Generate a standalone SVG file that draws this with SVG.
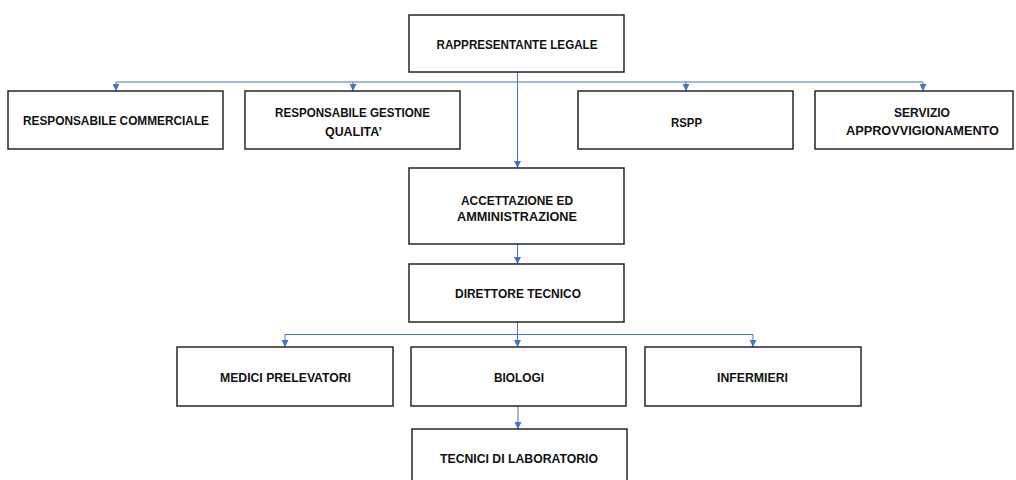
<svg xmlns="http://www.w3.org/2000/svg" width="1016" height="480" viewBox="0 0 1016 480">
<defs>
<style>
.box{fill:#ffffff;stroke:#262626;stroke-width:1.5}
.lbl{font-family:"Liberation Sans",Arial,sans-serif;font-weight:bold;font-size:13px;fill:#111111;text-anchor:middle}
.con{fill:none;stroke:#4472C4;stroke-width:1}
</style>
<marker id="arr" viewBox="0 0 8 8" refX="8" refY="4" markerWidth="7" markerHeight="7" markerUnits="userSpaceOnUse" orient="auto">
<path d="M0,0 L8,4 L0,8 Z" fill="#4472C4"/>
</marker>
</defs>
<rect width="1016" height="480" fill="#ffffff"/>
<g id="connectors">
<path class="con" d="M517.5,72 V168" marker-end="url(#arr)"/>
<path class="con" d="M116,82 H923"/>
<path class="con" d="M116,82 V91" marker-end="url(#arr)"/>
<path class="con" d="M353,82 V91" marker-end="url(#arr)"/>
<path class="con" d="M686,82 V91" marker-end="url(#arr)"/>
<path class="con" d="M923,82 V91" marker-end="url(#arr)"/>
<path class="con" d="M517.5,244 V264" marker-end="url(#arr)"/>
<path class="con" d="M517.5,322 V347" marker-end="url(#arr)"/>
<path class="con" d="M285,334.5 H753"/>
<path class="con" d="M285,334.5 V347" marker-end="url(#arr)"/>
<path class="con" d="M753,334.5 V347" marker-end="url(#arr)"/>
<path class="con" d="M518,406 V429" marker-end="url(#arr)"/>
</g>
<g id="n-rappresentante">
<rect class="box" x="409" y="15" width="215" height="57"/>
<text class="lbl" x="517" y="48.5" textLength="161" lengthAdjust="spacingAndGlyphs">RAPPRESENTANTE LEGALE</text>
</g>
<g id="n-commerciale">
<rect class="box" x="8" y="91" width="215" height="58"/>
<text class="lbl" x="116" y="124.5" textLength="186" lengthAdjust="spacingAndGlyphs">RESPONSABILE COMMERCIALE</text>
</g>
<g id="n-qualita">
<rect class="box" x="245" y="91" width="215" height="58"/>
<text class="lbl" x="352.5" y="116.5" textLength="155" lengthAdjust="spacingAndGlyphs">RESPONSABILE GESTIONE</text>
<text class="lbl" x="353.5" y="136" textLength="57" lengthAdjust="spacingAndGlyphs">QUALITA’</text>
</g>
<g id="n-rspp">
<rect class="box" x="578" y="91" width="215" height="58"/>
<text class="lbl" x="686.5" y="126.5" textLength="31" lengthAdjust="spacingAndGlyphs">RSPP</text>
</g>
<g id="n-servizio">
<rect class="box" x="815" y="91" width="198" height="58"/>
<text class="lbl" x="922" y="116.5" textLength="56" lengthAdjust="spacingAndGlyphs">SERVIZIO</text>
<text class="lbl" x="922.5" y="134.5" textLength="153" lengthAdjust="spacingAndGlyphs">APPROVVIGIONAMENTO</text>
</g>
<g id="n-accettazione">
<rect class="box" x="409" y="168" width="215" height="76"/>
<text class="lbl" x="517" y="204.5" textLength="112" lengthAdjust="spacingAndGlyphs">ACCETTAZIONE ED</text>
<text class="lbl" x="517" y="220.5" textLength="120" lengthAdjust="spacingAndGlyphs">AMMINISTRAZIONE</text>
</g>
<g id="n-direttore">
<rect class="box" x="409" y="264" width="215" height="58"/>
<text class="lbl" x="518" y="297.5" textLength="126" lengthAdjust="spacingAndGlyphs">DIRETTORE TECNICO</text>
</g>
<g id="n-medici">
<rect class="box" x="177" y="347" width="216" height="59"/>
<text class="lbl" x="285.5" y="381.5" textLength="131" lengthAdjust="spacingAndGlyphs">MEDICI PRELEVATORI</text>
</g>
<g id="n-biologi">
<rect class="box" x="411" y="347" width="215" height="59"/>
<text class="lbl" x="519" y="381.5" textLength="50" lengthAdjust="spacingAndGlyphs">BIOLOGI</text>
</g>
<g id="n-infermieri">
<rect class="box" x="645" y="347" width="216" height="59"/>
<text class="lbl" x="752.5" y="381.5" textLength="71" lengthAdjust="spacingAndGlyphs">INFERMIERI</text>
</g>
<g id="n-tecnici">
<rect class="box" x="412" y="429" width="215" height="60"/>
<text class="lbl" x="519" y="463" textLength="158" lengthAdjust="spacingAndGlyphs">TECNICI DI LABORATORIO</text>
</g>
</svg>
